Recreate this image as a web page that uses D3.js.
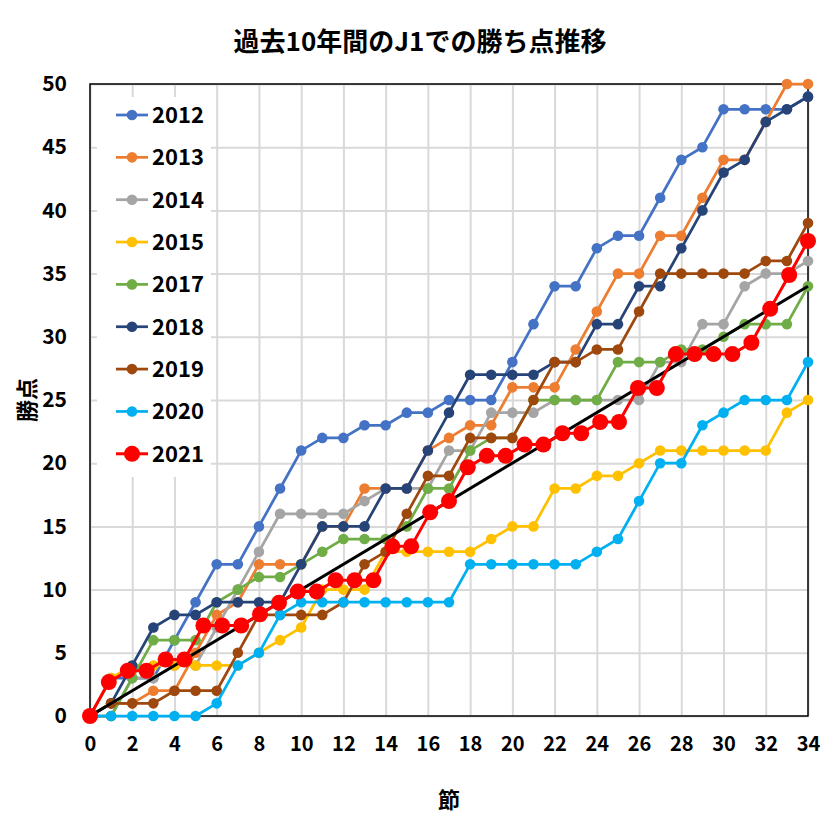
<!DOCTYPE html>
<html><head><meta charset="utf-8">
<script src="https://cdn.jsdelivr.net/npm/d3@7/dist/d3.min.js"></script>
<style>body{margin:0;background:#fff}svg{display:block}</style>
</head><body>
<svg id="c" width="836" height="836"></svg>
<script>
// ---- data ----
const rounds = [0,1,2,3,4,5,6,7,8,9,10,11,12,13,14,15,16,17,18,19,20,21,22,23,24,25,26,27,28,29,30,31,32,33,34];
const pts2012 = [0,3,3,3,6,9,12,12,15,18,21,22,22,23,23,24,24,25,25,25,28,31,34,34,37,38,38,41,44,45,48,48,48,48,49];
const pts2013 = [0,1,1,2,2,5,8,9,12,12,12,15,15,18,18,18,21,22,23,23,26,26,26,29,32,35,35,38,38,41,44,44,47,50,50];
const pts2014 = [0,0,3,3,4,4,7,10,13,16,16,16,16,17,18,18,18,21,21,24,24,24,25,25,25,25,25,28,28,31,31,34,35,35,36];
const pts2015 = [0,3,4,4,4,4,4,4,5,6,7,10,10,10,13,13,13,13,13,14,15,15,18,18,19,19,20,21,21,21,21,21,21,24,25];
const pts2017 = [0,0,3,6,6,6,9,10,11,11,12,13,14,14,14,15,18,18,21,22,22,25,25,25,25,28,28,28,29,29,30,31,31,31,34];
const pts2018 = [0,1,4,7,8,8,9,9,9,9,12,15,15,15,18,18,21,24,27,27,27,27,28,28,31,31,34,34,37,40,43,44,47,48,49];
const pts2019 = [0,1,1,1,2,2,2,5,8,8,8,8,9,12,13,16,19,19,22,22,22,25,28,28,29,29,32,35,35,35,35,35,36,36,39];
const pts2020 = [0,0,0,0,0,0,1,4,5,8,9,9,9,9,9,9,9,9,12,12,12,12,12,12,13,14,17,20,20,23,24,25,25,25,28];
// 2021 (38 matches, shown on the 34-round scale)
const rounds2021 = [0,0.89,1.79,2.68,3.58,4.47,5.37,6.26,7.16,8.05,8.95,9.84,10.74,11.63,12.53,13.42,14.32,15.21,16.11,17,17.89,18.79,19.68,20.58,21.47,22.37,23.26,24.16,25.05,25.95,26.84,27.74,28.63,29.53,30.42,31.32,32.21,33.11,34];
const pts2021 = [0,2.68,3.58,3.58,4.47,4.47,7.16,7.16,7.16,8.05,8.95,9.84,9.84,10.74,10.74,10.74,13.42,13.42,16.11,17,19.68,20.58,20.58,21.47,21.47,22.37,22.37,23.26,23.26,25.95,25.95,28.63,28.63,28.63,28.63,29.53,32.21,34.89,37.58];
const refX = [0,34];
const refY = [0,34];
const seriesNames = ["2012","2013","2014","2015","2017","2018","2019","2020","2021"];
const seriesColors = ["#4472C4","#ED7D31","#A5A5A5","#FFC000","#70AD47","#264478","#9E480E","#00B0F0","#FF0000"];
const xTicks = [0,2,4,6,8,10,12,14,16,18,20,22,24,26,28,30,32,34];
const yTicks = [0,5,10,15,20,25,30,35,40,45,50];
const titleText = "過去10年間のJ1での勝ち点推移";
const xLabel = "節";
const yLabel = "勝点";

// ---- chart ----
const svg = d3.select("#c");
const L = 90, R = 808, T = 84, B = 716;
const x = d3.scaleLinear().domain([0,34]).range([L,R]);
const y = d3.scaleLinear().domain([0,50]).range([B,T]);
const font = "'Noto Sans CJK JP','Noto Sans',sans-serif";

// gridlines
svg.append("g").attr("transform",`translate(0,${B})`)
  .call(d3.axisBottom(x).tickValues(xTicks).tickSize(-(B-T)).tickFormat(""))
  .call(g=>g.select(".domain").remove())
  .call(g=>g.selectAll("line").attr("stroke","#D9D9D9").attr("stroke-width",2));
svg.append("g").attr("transform",`translate(${L},0)`)
  .call(d3.axisLeft(y).tickValues(yTicks).tickSize(-(R-L)).tickFormat(""))
  .call(g=>g.select(".domain").remove())
  .call(g=>g.selectAll("line").attr("stroke","#D9D9D9").attr("stroke-width",2));

// tick labels
svg.append("g").attr("transform",`translate(0,${B+18})`)
  .call(d3.axisBottom(x).tickValues(xTicks).tickSize(0))
  .call(g=>g.select(".domain").remove())
  .call(g=>g.selectAll("text").attr("font-family",font).attr("font-size",20).attr("font-weight","bold").attr("fill","#000"));
svg.append("g").attr("transform",`translate(${L-20},0)`)
  .call(d3.axisLeft(y).tickValues(yTicks).tickSize(0))
  .call(g=>g.select(".domain").remove())
  .call(g=>g.selectAll("text").attr("font-family",font).attr("font-size",21).attr("font-weight","bold").attr("fill","#000"));

// plot border
svg.append("rect").attr("x",L).attr("y",T).attr("width",R-L).attr("height",B-T)
  .attr("fill","none").attr("stroke","#000").attr("stroke-width",1.5);

// series
const xs = [rounds,rounds,rounds,rounds,rounds,rounds,rounds,rounds,rounds2021];
const ys = [pts2012,pts2013,pts2014,pts2015,pts2017,pts2018,pts2019,pts2020,pts2021];
const line = d3.line().x(d=>x(d[0])).y(d=>y(d[1]));
function drawSeries(i){
  const data = xs[i].map((v,k)=>[v, ys[i][k]]);
  const big = seriesNames[i]==="2021";
  const g = svg.append("g");
  g.append("path").datum(data).attr("d",line).attr("fill","none")
    .attr("stroke",seriesColors[i]).attr("stroke-width",big?3:2.75).attr("stroke-linejoin","round");
  g.selectAll("circle").data(data).join("circle")
    .attr("cx",d=>x(d[0])).attr("cy",d=>y(d[1])).attr("r",big?8:5.3).attr("fill",seriesColors[i]);
}
for(let i=0;i<8;i++) drawSeries(i);
// reference line (1 point per round)
svg.append("path").datum(refX.map((v,k)=>[v,refY[k]])).attr("d",line)
  .attr("fill","none").attr("stroke","#000").attr("stroke-width",3);
drawSeries(8);

// legend
const lg = svg.append("g");
lg.append("rect").attr("x",97).attr("y",97).attr("width",114).attr("height",380).attr("fill","#fff");
seriesNames.forEach((n,i)=>{
  const cy = 115 + i*42.35;
  const big = n==="2021";
  lg.append("line").attr("x1",116).attr("x2",148).attr("y1",cy).attr("y2",cy)
    .attr("stroke",seriesColors[i]).attr("stroke-width",big?3:2.75);
  lg.append("circle").attr("cx",132).attr("cy",cy).attr("r",big?8:5.3).attr("fill",seriesColors[i]);
  lg.append("text").attr("x",152).attr("y",cy).attr("dy","0.36em")
    .attr("font-family",font).attr("font-size",22).attr("font-weight","bold").text(n);
});

// titles
svg.append("text").attr("x",420).attr("y",42).attr("dy","0.36em").attr("text-anchor","middle")
  .attr("font-family",font).attr("font-size",26).attr("font-weight","bold").text(titleText);
svg.append("text").attr("x",449).attr("y",800).attr("dy","0.36em").attr("text-anchor","middle")
  .attr("font-family",font).attr("font-size",22).attr("font-weight","bold").text(xLabel);
svg.append("text").attr("transform","translate(27,400) rotate(-90)").attr("dy","0.36em").attr("text-anchor","middle")
  .attr("font-family",font).attr("font-size",22).attr("font-weight","bold").text(yLabel);
</script>
</body></html>
